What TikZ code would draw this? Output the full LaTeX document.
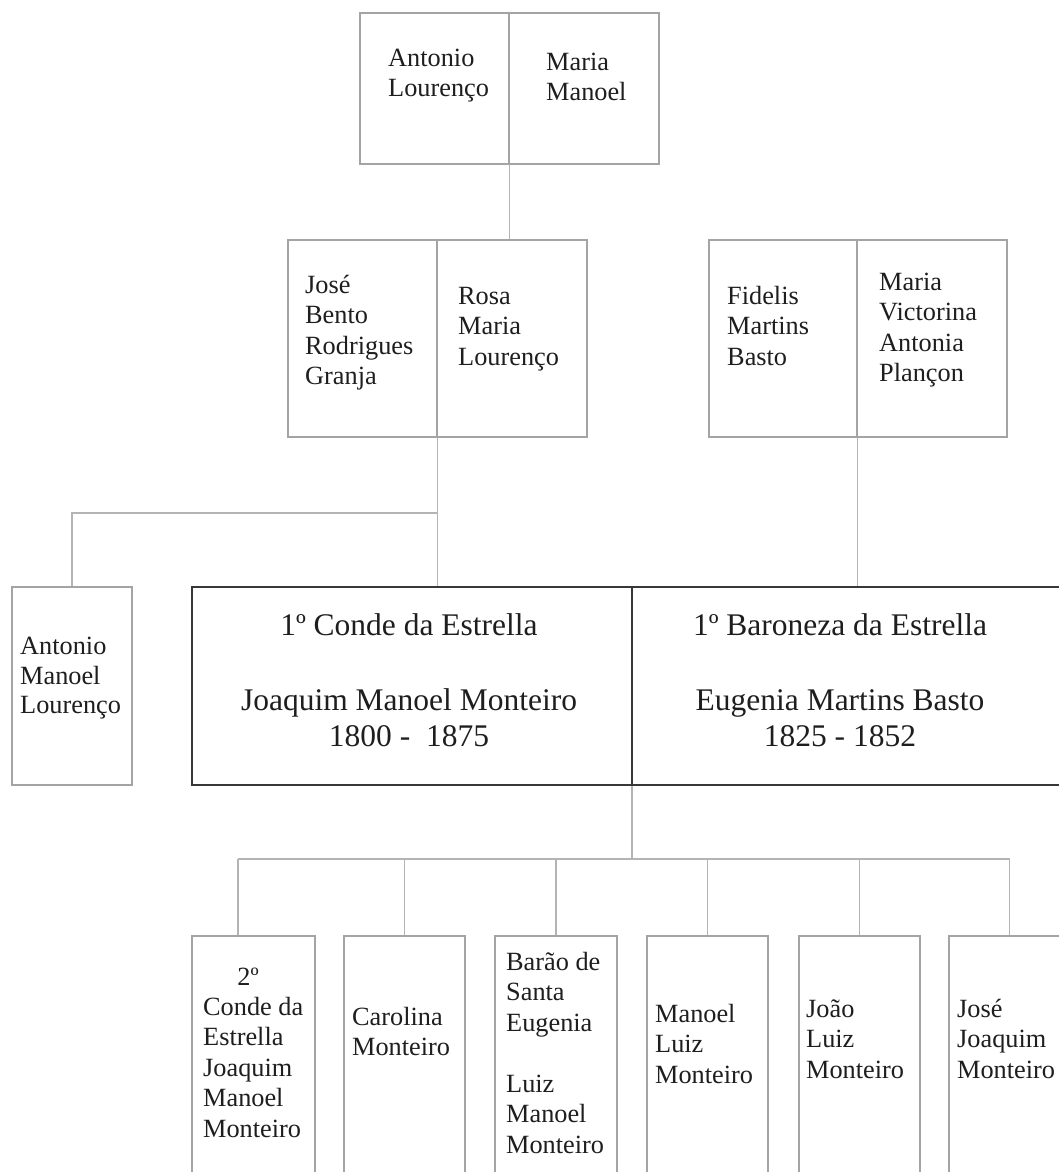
\documentclass[tikz,border=0pt]{standalone}
\usepackage{fontspec}
\setmainfont{Liberation Serif}
\definecolor{boxgray}{HTML}{A4A4A4}
\definecolor{linegray}{HTML}{B4B4B4}
\definecolor{darkline}{HTML}{383838}
\definecolor{ink}{HTML}{1E1E1E}
\tikzset{
  pbox/.style={draw=boxgray, line width=1.2pt, rectangle, inner sep=0pt},
  bigbox/.style={draw=darkline, line width=2.2pt, rectangle, inner sep=0pt},
  conn/.style={draw=linegray, line width=1.2pt},
  nametext/.style={inner sep=0pt, align=left, anchor=base west, text=ink, font=\fontsize{26.3}{30.5}\selectfont},
  bigtext/.style={inner sep=0pt, align=center, anchor=base, text=ink, font=\fontsize{31.5}{35.5}\selectfont},
}
\begin{document}
\begin{tikzpicture}[x=1pt,y=-1pt]
\useasboundingbox (0,0) rectangle (1059,1172);
\fill[white] (0,0) rectangle (1059,1172);
\clip (0,0) rectangle (1059,1172);

% generation 1
\node[pbox, minimum width=149pt, minimum height=151pt] (aL) at (434.5,88.5) {};
\node[pbox, minimum width=150pt, minimum height=151pt] (aR) at (584,88.5) {};
% generation 2
\node[pbox, minimum width=149pt, minimum height=197pt] (bL) at (362.5,338.5) {};
\node[pbox, minimum width=150pt, minimum height=197pt] (bR) at (512,338.5) {};
\node[pbox, minimum width=148pt, minimum height=197pt] (cL) at (783,338.5) {};
\node[pbox, minimum width=150pt, minimum height=197pt] (cR) at (932,338.5) {};
% generation 3
\node[pbox, minimum width=120pt, minimum height=198pt] (am) at (72,686) {};
% children
\node[pbox, minimum width=123pt, minimum height=264pt] (k1) at (253.5,1068) {};
\node[pbox, minimum width=121pt, minimum height=264pt] (k2) at (404.5,1068) {};
\node[pbox, minimum width=122pt, minimum height=264pt] (k3) at (556,1068) {};
\node[pbox, minimum width=121pt, minimum height=264pt] (k4) at (707.5,1068) {};
\node[pbox, minimum width=121pt, minimum height=264pt] (k5) at (859.5,1068) {};
\node[pbox, minimum width=121pt, minimum height=264pt] (k6) at (1009.5,1068) {};

% connectors
\draw[conn] (aL.south east) -- (aL.south east |- bR.north);
\coordinate (br) at (437,513);
\draw[conn] (bL.south east) -- (bL.south east |- am.north);
\draw[conn] (br) -| (am.north);
\draw[conn] (cL.south east) -- (cL.south east |- am.north);
\coordinate (bar) at (632,859);
\coordinate (d1) at (238,859);
\draw[conn] (632,785) -- (bar);
\draw[conn] (d1) -- (k6.north |- bar);
\draw[conn] (d1) -- (d1 |- k1.north);
\foreach \k in {k2,k3,k4,k5,k6} \draw[conn] (\k.north |- bar) -- (\k.north);

% main couple
\node[bigbox, minimum width=440pt, minimum height=198pt] (conde) at (412,686) {};
\node[bigbox, minimum width=443pt, minimum height=198pt] (baronesa) at (853.5,686) {};

% texts (anchor = baseline of the last line)
\node[nametext] (aLt) at (388,96.5) {Antonio\\Lourenço};
\node[nametext] (aRt) at (546,100.5) {Maria\\Manoel};
\node[nametext] (bLt) at (305,384.5) {José\\Bento\\Rodrigues\\Granja};
\node[nametext] (bRt) at (458,365) {Rosa\\Maria\\Lourenço};
\node[nametext] (cLt) at (727,365) {Fidelis\\Martins\\Basto};
\node[nametext] (cRt) at (879,381.5) {Maria\\Victorina\\Antonia\\Plançon};
\node[nametext, font=\fontsize{26.3}{29.3}\selectfont] (amt) at (20,713.5) {Antonio\\Manoel\\Lourenço};
\node[bigtext] (condet) at (409,746) {1º Conde da Estrella\\[40pt]Joaquim Manoel Monteiro\\1800 -\ \ 1875};
\node[bigtext] (baronesat) at (840,746) {1º Baroneza da Estrella\\[40pt]Eugenia Martins Basto\\1825 - 1852};
\node[nametext, anchor=base] (k1a) at (248,985) {2º};
\node[nametext] (k1t) at (203,1137) {Conde da\\Estrella\\Joaquim\\Manoel\\Monteiro};
\node[nametext] (k2t) at (352,1055.5) {Carolina\\Monteiro};
\node[nametext] (k3t) at (506,1153) {Barão de\\Santa\\Eugenia\\[30.5pt]Luiz\\Manoel\\Monteiro};
\node[nametext] (k4t) at (655,1083) {Manoel\\Luiz\\Monteiro};
\node[nametext] (k5t) at (806,1078) {João\\Luiz\\Monteiro};
\node[nametext] (k6t) at (957,1078) {José\\Joaquim\\Monteiro};
\end{tikzpicture}
\end{document}
